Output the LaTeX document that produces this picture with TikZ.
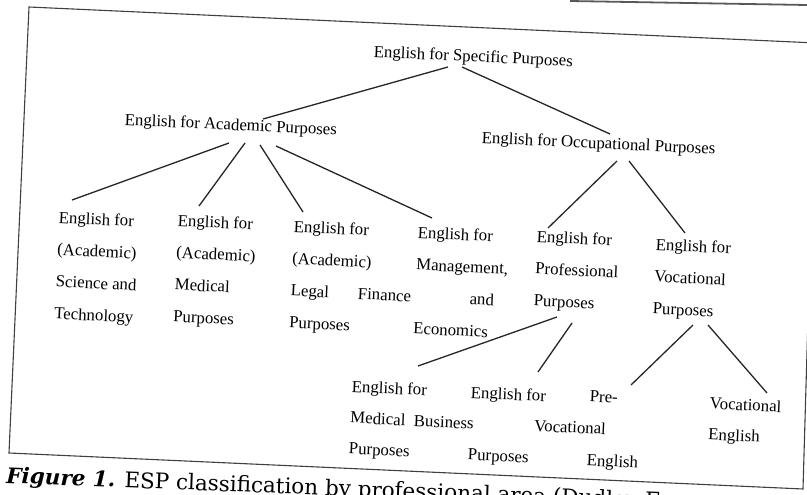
\documentclass[tikz,border=0pt]{standalone}
\usepackage{fontspec}
\setmainfont{Liberation Serif}
\newfontfamily\capfont{DejaVu Serif}
\begin{document}
\begin{tikzpicture}[x=1pt,y=-1pt,
  lbl/.style={inner sep=0pt, rotate=-2.7, anchor=north west, align=left,
              font=\fontsize{16.8pt}{32pt}\selectfont},
  lbl3/.style={lbl, font=\fontsize{16.8pt}{31pt}\selectfont},
  conn/.style={line width=1.3pt, black!85},
  frame/.style={line width=1.1pt, black!75},
]
\useasboundingbox (0,0) rectangle (807,495);
\clip (0,0) rectangle (807,495);
\fill[white] (0,0) rectangle (807,495);

% frame of the figure (scanned, slightly rotated)
\draw[frame] (29,7) -- (816,43) -- (803,489) -- (9,453) -- cycle;
\draw[line width=1.8pt, black!65] (570,1) -- (807,5);

% nodes
\node[lbl] (esp) at (374,45) {English for Specific Purposes};
\node[lbl] (eap) at (125,113) {English for Academic Purposes};
\node[lbl] (eop) at (482,131) {English for Occupational Purposes};

\node[lbl] (st)  at (59,211)  {English for\\(Academic)\\Science and\\Technology};
\node[lbl] (med) at (178,214) {English for\\(Academic)\\Medical\\Purposes};
\node[lbl] (leg) at (294,220) {English for\\(Academic)\\Legal\\Purposes};
\node[lbl] (mfe) at (418,226) {English for\\Management,\\\hspace*{-57pt}Finance\hspace*{58.8pt}and\\Economics};
\node[lbl] (prof) at (537,230) {English for\\Professional\\Purposes};
\node[lbl] (voc) at (656,238) {English for\\Vocational\\Purposes};

\node[lbl3] (emp) at (352,380) {English for\\Medical\\Purposes};
\node[lbl3] (ebp) at (471,386) {English for\\\hspace*{-55.5pt}Business\\Purposes};
\node[lbl] (pve) at (536,388) {\hspace*{54pt}Pre-\\Vocational\\\hspace*{54pt}English};
\node[lbl3] (ve) at (710,397) {Vocational\\English};

% connectors
\draw[conn] ([shift={(74,22)}]esp.north west) -- ([shift={(138,6)}]eap.north west);
\draw[conn] ([shift={(88,22)}]esp.north west) -- ([shift={(128,3)}]eop.north west);

\draw[conn] ([shift={(104,30)}]eap.north west) -- ([shift={(13,-11)}]st.north west);
\draw[conn] ([shift={(120,30)}]eap.north west) -- ([shift={(21,-8)}]med.north west);
\draw[conn] ([shift={(135,32)}]eap.north west) -- ([shift={(9,-8)}]leg.north west);
\draw[conn] ([shift={(151,33)}]eap.north west) -- ([shift={(14,-8)}]mfe.north west);

\draw[conn] ([shift={(135,30)}]eop.north west) -- ([shift={(11,-2)}]prof.north west);
\draw[conn] ([shift={(147,30)}]eop.north west) -- ([shift={(29,-5)}]voc.north west);

\draw[conn] ([shift={(20,87)}]prof.north west) -- ([shift={(66,-14)}]emp.north west);
\draw[conn] ([shift={(35,93)}]prof.north west) -- ([shift={(67,-14)}]ebp.north west);
\draw[conn] ([shift={(37,87)}]voc.north west) -- ([shift={(95,-3)}]pve.north west);
\draw[conn] ([shift={(52,87)}]voc.north west) -- ([shift={(57,-4)}]ve.north west);

% caption
\node[anchor=base west, inner sep=0pt, rotate=-2.2,
      font=\capfont\fontsize{21.5pt}{24pt}\selectfont] (cap) at (6,483)
  {\textbf{\textit{Figure 1.}} ESP classification by professional area (Dudley-Evans};
\end{tikzpicture}
\end{document}
